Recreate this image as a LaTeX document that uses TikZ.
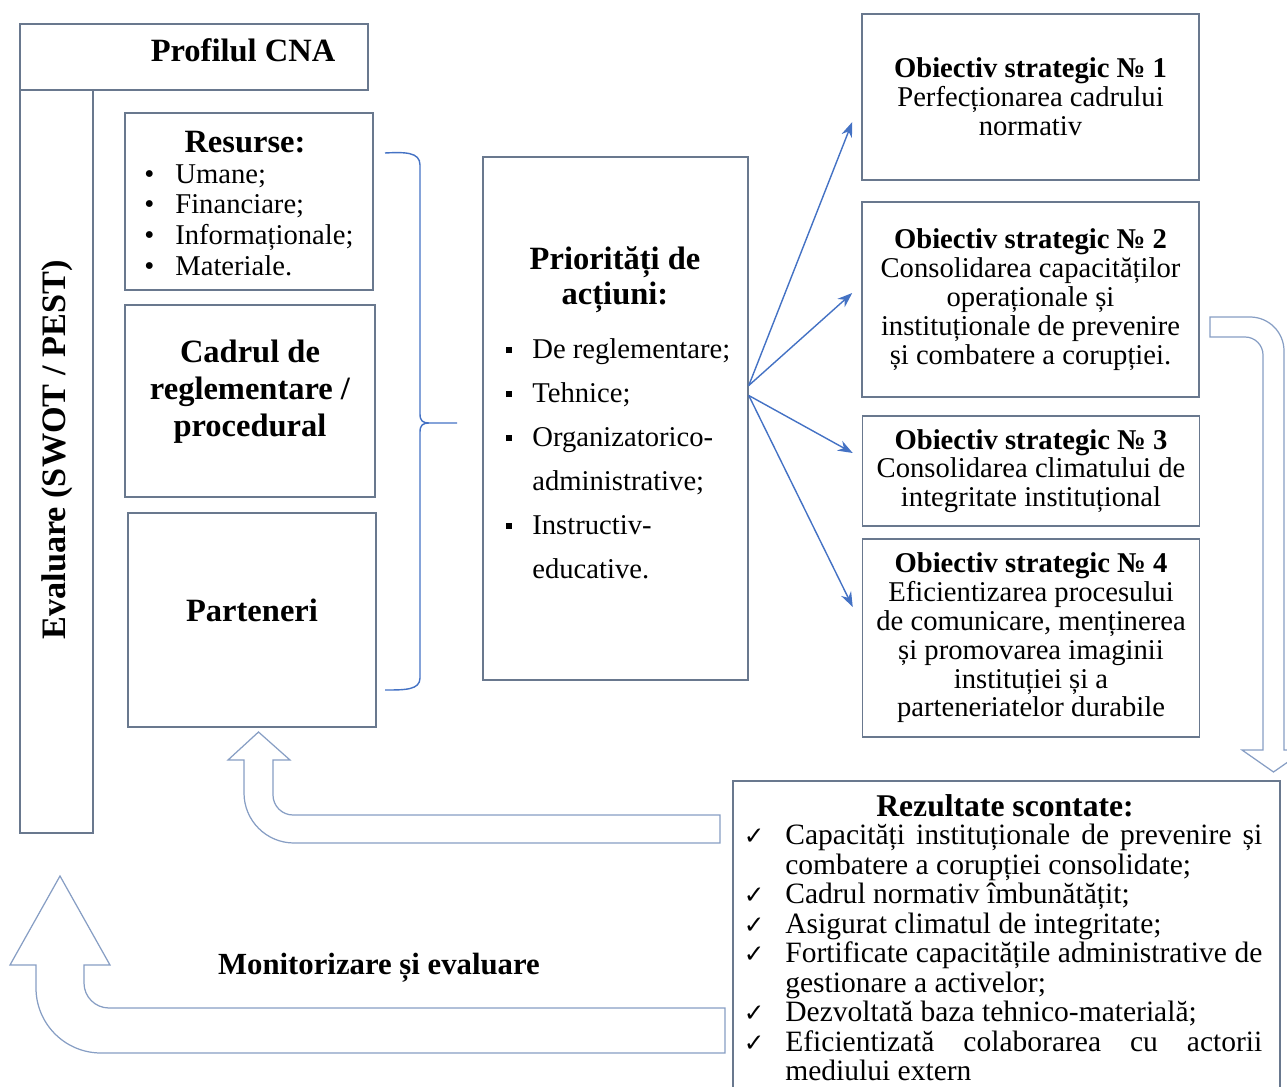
\documentclass[tikz,border=0pt]{standalone}
\usepackage{fontspec}
\setmainfont{Liberation Serif}
\newfontfamily\chkfont{DejaVu Sans}
\usetikzlibrary{arrows.meta, calc}

\definecolor{boxline}{RGB}{105,120,142}
\definecolor{linkblue}{RGB}{68,114,196}
\definecolor{arrline}{RGB}{135,158,196}

\newcommand{\dotitem}{\makebox[0.62cm][l]{•}}
\newcommand{\sqitem}{\makebox[0.52cm][l]{\raisebox{0.2em}{\rule{0.12cm}{0.12cm}}}}
\newcommand{\chk}{\leavevmode\llap{{\chkfont\fontsize{14}{14}\selectfont ✓}\hspace{0.42cm}}}

\begin{document}
\begin{tikzpicture}[x=0.02cm, y=-0.02cm, >={Stealth[length=0.3cm, width=0.22cm]}]
  \tikzstyle{box} = [draw=boxline, line width=0.9pt, inner sep=0pt]
  \tikzstyle{head} = [inner sep=0pt, align=center, font=\fontsize{18.5}{21}\selectfont\bfseries]
  \tikzstyle{txt} = [inner sep=0pt, align=left, font=\fontsize{16.3}{17.4}\selectfont]
  \tikzstyle{obj} = [box, minimum width=6.74cm, align=center, font=\fontsize{16.3}{16.4}\selectfont]
  \tikzstyle{link} = [->, draw=linkblue, line width=0.8pt]
  \tikzstyle{block} = [draw=arrline, line width=0.7pt, fill=white]

  \useasboundingbox (0,0) rectangle (1287,1087);
  \clip (0,0) rectangle (1287,1087);

  % left column
  \node[box, minimum width=6.96cm, minimum height=1.32cm] (prof) at (194,57) {};
  \node[head] (proft) at (243,50) {Profilul CNA};
  \node[box, minimum width=1.46cm, minimum height=14.86cm] (eval) at (56.5,461.5) {};
  \node[head, rotate=90, font=\fontsize{19.5}{21}\selectfont\bfseries] (evalt) at (57,450) {Evaluare (SWOT / PEST)};

  \node[box, minimum width=4.96cm, minimum height=3.54cm] (res) at (249,201.5) {};
  \node[head] (rest) at (245,142) {Resurse:};
  \node[txt, anchor=west] (resl) at (144,220) {\dotitem Umane;\\ \dotitem Financiare;\\ \dotitem Informaționale;\\ \dotitem Materiale.};

  \node[box, minimum width=5cm, minimum height=3.84cm] (cadru) at (250,401) {};
  \node[head] (cadrut) at (250,392) {Cadrul de\\reglementare /\\procedural};

  \node[box, minimum width=4.96cm, minimum height=4.28cm] (parten) at (252,620) {};
  \node[head] (partent) at (252,610) {Parteneri};

  % brace
  \draw[linkblue, line width=0.8pt] (385,153) .. controls (405,152) and (420,152) .. (420,165) -- (420,414)
    .. controls (420,421) and (423,423) .. (429,423) -- (457,423)
    (429,423) .. controls (423,423) and (420,425) .. (420,432) -- (420,678)
    .. controls (420,690) and (405,690) .. (385,690);

  % priorities
  \node[box, minimum width=5.3cm, minimum height=10.46cm] (prio) at (615.5,418.5) {};
  \node[head, font=\fontsize{18.5}{20}\selectfont\bfseries] (priot) at (615,280) {Priorități de\\acțiuni:};
  \node[txt, anchor=west, font=\fontsize{16.3}{25}\selectfont] (priol) at (506,459)
    {\sqitem De reglementare;\\ \sqitem Tehnice;\\ \sqitem Organizatorico-\\ \hspace*{0.52cm}administrative;\\
     \sqitem Instructiv-\\ \hspace*{0.52cm}educative.};

  % objectives
  \node[obj, minimum height=3.32cm] (obj1) at (1030.5,97)
    {\textbf{Obiectiv strategic № 1}\\Perfecționarea cadrului\\normativ};
  \node[obj, minimum height=3.9cm] (obj2) at (1030.5,299.5)
    {\textbf{Obiectiv strategic № 2}\\Consolidarea capacităților\\operaționale și\\instituționale de prevenire\\și combatere a corupției.};
  \node[obj, minimum height=2.2cm] (obj3) at (1031,471)
    {\textbf{Obiectiv strategic № 3}\\Consolidarea climatului de\\integritate instituțional};
  \node[obj, minimum height=3.96cm] (obj4) at (1031,638)
    {\textbf{Obiectiv strategic № 4}\\Eficientizarea procesului\\de comunicare, menținerea\\și promovarea imaginii\\instituției și a\\parteneriatelor durabile};

  \coordinate (fan1) at ($(prio.east)+(0,-33)$);
  \coordinate (fan2) at ($(prio.east)+(0,-23)$);
  \draw[link] (fan1) -- ($(obj1.west)+(-9,25)$);
  \draw[link] (fan1) -- ($(obj2.west)+(-9,-6.5)$);
  \draw[link] (fan2) -- ($(obj3.west)+(-9,-18)$);
  \draw[link] (fan2) -- ($(obj4.west)+(-9,-31)$);

  % results
  \node[box, minimum width=10.94cm, minimum height=6.28cm] (rez) at (1006.5,938) {};
  \node[head, font=\fontsize{18}{20}\selectfont\bfseries] (rezt) at (1005,806) {Rezultate scontate:};
  \node[txt, anchor=north west, text width=9.54cm, align=justify, font=\fontsize{16.8}{16.8}\selectfont] (rezl) at (785,824)
    {\setlength{\parindent}{0pt}%
     \chk Capacități instituționale de prevenire și\linebreak combatere a corupției consolidate;\par
     \chk Cadrul normativ îmbunătățit;\par
     \chk Asigurat climatul de integritate;\par
     \chk Fortificate capacitățile administrative de\linebreak gestionare a activelor;\par
     \chk Dezvoltată baza tehnico-materială;\par
     \chk Eficientizată colaborarea cu actorii\linebreak mediului extern};

  % block arrows
  \draw[block] (1210,317) -- (1250,317) .. controls (1268.8,317) and (1284,332.2) .. (1284,351)
    -- (1284,750) -- (1305,750) -- (1273.5,772) -- (1242,750) -- (1263,750) -- (1263,355)
    .. controls (1263,345.1) and (1254.9,337) .. (1245,337) -- (1210,337) -- cycle;
  \draw[block] (258.5,732) -- (290,760) -- (273,760) -- (273,795) .. controls (273,806) and (282,815) .. (293,815)
    -- (720,815) -- (720,843) -- (294,843) .. controls (266.4,843) and (244,820.6) .. (244,793)
    -- (244,760) -- (228,760) -- cycle;
  \draw[block] (60,876) -- (110,965) -- (84,965) -- (84,983) .. controls (84,996.8) and (95.2,1008) .. (109,1008)
    -- (725,1008) -- (725,1053) -- (101,1053) .. controls (65.1,1053) and (36,1023.9) .. (36,988)
    -- (36,965) -- (10,965) -- cycle;
  \node[head, font=\fontsize{17.5}{20}\selectfont\bfseries] (mon) at (379,968) {Monitorizare și evaluare};
\end{tikzpicture}
\end{document}
